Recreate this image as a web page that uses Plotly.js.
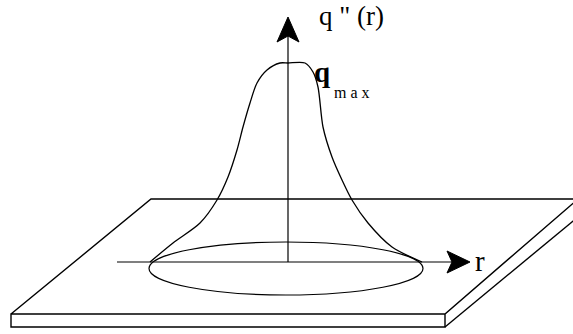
<!DOCTYPE html>
<html>
<head>
<meta charset="utf-8">
<script src="https://cdn.plot.ly/plotly-3.0.1.min.js"></script>
<style>
html,body{margin:0;padding:0;background:#fff;}
#chart{width:573px;height:334px;}
</style>
</head>
<body>
<div id="chart"></div>
<script>
// drawing units: 1 unit = 1 px, origin where the q axis meets the r axis

// heat flux profile q"(r)
const profileR = [-138,-115,-88,-71,-60,-51,-45,-38,-31,-21,-8,0,17,25,30,35,44,54,64,80,104,134];
const profileQ = [0,19,39,62,85,112,135,159,179,192,199,199,199,190,175,135,105,82,62,39,15,0];

// plate outline (top face, front face, side edge)
const plateX = [-277,-137,290,157,-277,-277,157,157,null,157,302];
const plateY = [-52,63,63,-52,-52,-65,-65,-52,null,-65,55];

// axes and arrow heads
const rAxisX = [-171,164], rAxisY = [0,0];
const qAxisX = [0,0], qAxisY = [0,226];
const rHeadX = [182,159,164,159,182], rHeadY = [0,11,0,-11,0];
const qHeadX = [0,-11,0,11,0], qHeadY = [245,220,226,220,245];

// footprint of the beam on the plate
const spotR = [-139,135];
const spotQ = [-33,20];

const ink = '#000';
const line = (x,y,w)=>({x:x, y:y, type:'scatter', mode:'lines', line:{color:ink, width:w}, hoverinfo:'skip', showlegend:false});

const traces = [
  line(plateX, plateY, 1.4),
  line(rAxisX, rAxisY, 1.2),
  line(qAxisX, qAxisY, 1.2),
  Object.assign(line(profileR, profileQ, 1.3), {line:{color:ink, width:1.3, shape:'spline', smoothing:0.8}}),
  Object.assign(line(rHeadX, rHeadY, 1), {fill:'toself', fillcolor:ink}),
  Object.assign(line(qHeadX, qHeadY, 1), {fill:'toself', fillcolor:ink}),
];

const serif = '"Liberation Serif", "Times New Roman", "DejaVu Serif", serif';
const txt = (x,y,t,size,anchor)=>({x:x, y:y, xref:'x', yref:'y', text:t, showarrow:false,
  xanchor:anchor||'left', yanchor:'middle', font:{family:serif, size:size, color:ink}});

const layout = {
  width:573, height:334,
  margin:{l:0,r:0,t:0,b:0},
  paper_bgcolor:'#fff', plot_bgcolor:'#fff',
  xaxis:{range:[-288,285], visible:false, fixedrange:true},
  yaxis:{range:[-72,262], visible:false, fixedrange:true},
  shapes:[{type:'circle', xref:'x', yref:'y', x0:spotR[0], x1:spotR[1], y0:spotQ[0], y1:spotQ[1],
    line:{color:ink, width:1.2}}],
  annotations:[
    txt(29, 246, 'q " (r)', 27),
    txt(24, 190, '<b>q</b>', 29),
    txt(44, 170, 'm a x', 16),
    txt(185, 1, 'r', 29),
  ],
};

Plotly.newPlot('chart', traces, layout, {staticPlot:true, displayModeBar:false});
</script>
</body>
</html>
